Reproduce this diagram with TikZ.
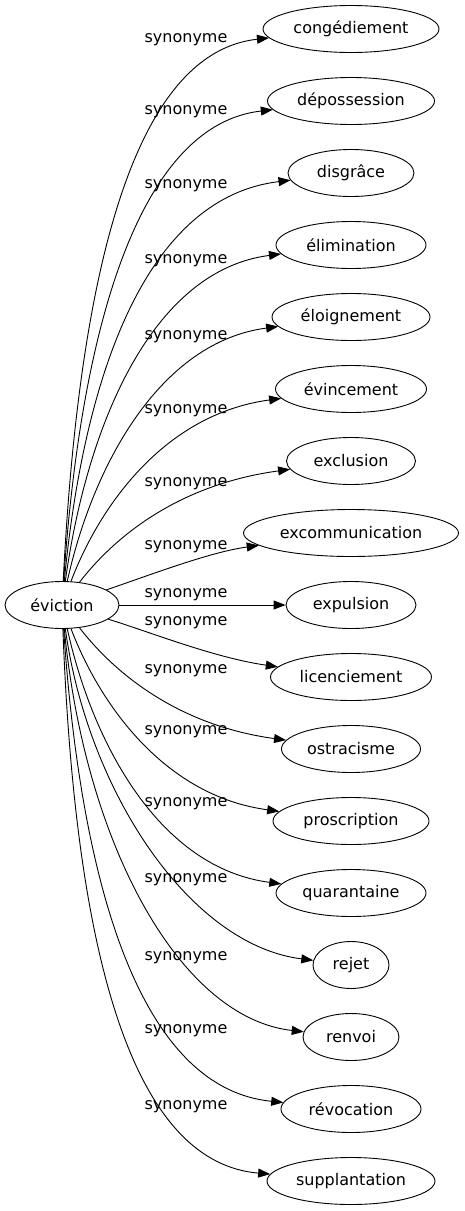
\documentclass[tikz,border=0pt]{standalone}
\usepackage{fontspec}
\setmainfont{DejaVu Sans}
\usetikzlibrary{arrows.meta,shapes.geometric}
\begin{document}
\begin{tikzpicture}[x=1pt,y=-1pt,
  word/.style={draw, ellipse, minimum height=47pt, inner sep=0pt, line width=0.9pt, font=\fontsize{16}{19}\selectfont},
  lab/.style={inner sep=0pt, font=\fontsize{16}{19}\selectfont},
  conn/.style={line width=0.9pt, -{Triangle[length=12pt,width=9pt]}}]
\useasboundingbox (0,0) rectangle (464,1211);
\node[word, minimum width=114pt] (ev) at (62,605) {éviction};
\node[word, minimum width=176pt] (t1) at (351,29) {congédiement};
\node[word, minimum width=167pt] (t2) at (351,101) {dépossession};
\node[word, minimum width=126pt] (t3) at (351,173) {disgrâce};
\node[word, minimum width=150pt] (t4) at (351,245) {élimination};
\node[word, minimum width=158pt] (t5) at (351,317) {éloignement};
\node[word, minimum width=151pt] (t6) at (351,389) {évincement};
\node[word, minimum width=129pt] (t7) at (351,461) {exclusion};
\node[word, minimum width=215pt] (t8) at (351,533) {excommunication};
\node[word, minimum width=130pt] (t9) at (351,605) {expulsion};
\node[word, minimum width=161pt] (t10) at (351,677) {licenciement};
\node[word, minimum width=139pt] (t11) at (351,749) {ostracisme};
\node[word, minimum width=156pt] (t12) at (351,821) {proscription};
\node[word, minimum width=150pt] (t13) at (351,893) {quarantaine};
\node[word, minimum width=76pt] (t14) at (351,965) {rejet};
\node[word, minimum width=96pt] (t15) at (351,1037) {renvoi};
\node[word, minimum width=140pt] (t16) at (351,1109) {révocation};
\node[word, minimum width=168pt] (t17) at (351,1181) {supplantation};

\node[lab] (l1) at (186,40) {synonyme};
\node[lab] (l2) at (186,112) {synonyme};
\node[lab] (l3) at (186,186) {synonyme};
\node[lab] (l4) at (186,261) {synonyme};
\node[lab] (l5) at (186,337) {synonyme};
\node[lab] (l6) at (186,411) {synonyme};
\node[lab] (l7) at (186,484) {synonyme};
\node[lab] (l8) at (186,547) {synonyme};
\node[lab] (l9) at (186,595) {synonyme};
\node[lab] (l10) at (186,623) {synonyme};
\node[lab] (l11) at (186,671) {synonyme};
\node[lab] (l12) at (186,732) {synonyme};
\node[lab] (l13) at (186,804) {synonyme};
\node[lab] (l14) at (186,880) {synonyme};
\node[lab] (l15) at (186,958) {synonyme};
\node[lab] (l16) at (186,1031) {synonyme};
\node[lab] (l17) at (186,1107) {synonyme};

\draw[conn] (ev) .. controls (80,250) and (140,52) .. (t1);
\draw[conn] (ev) .. controls (82,310) and (145,124) .. (t2);
\draw[conn] (ev) .. controls (85,365) and (150,197) .. (t3);
\draw[conn] (ev) .. controls (88,418) and (155,270) .. (t4);
\draw[conn] (ev) .. controls (93,465) and (160,342) .. (t5);
\draw[conn] (ev) .. controls (100,505) and (165,414) .. (t6);
\draw[conn] (ev) .. controls (112,540) and (175,485) .. (t7);
\draw[conn] (ev) .. controls (150,575) and (210,552) .. (t8);
\draw[conn] (ev) -- (t9);
\draw[conn] (ev) .. controls (150,632) and (215,658) .. (t10);
\draw[conn] (ev) .. controls (112,670) and (175,725) .. (t11);
\draw[conn] (ev) .. controls (100,705) and (165,796) .. (t12);
\draw[conn] (ev) .. controls (93,745) and (160,868) .. (t13);
\draw[conn] (ev) .. controls (88,792) and (190,945) .. (t14);
\draw[conn] (ev) .. controls (85,845) and (180,1018) .. (t15);
\draw[conn] (ev) .. controls (82,900) and (145,1089) .. (t16);
\draw[conn] (ev) .. controls (76,980) and (140,1163) .. (t17);
\end{tikzpicture}
\end{document}
